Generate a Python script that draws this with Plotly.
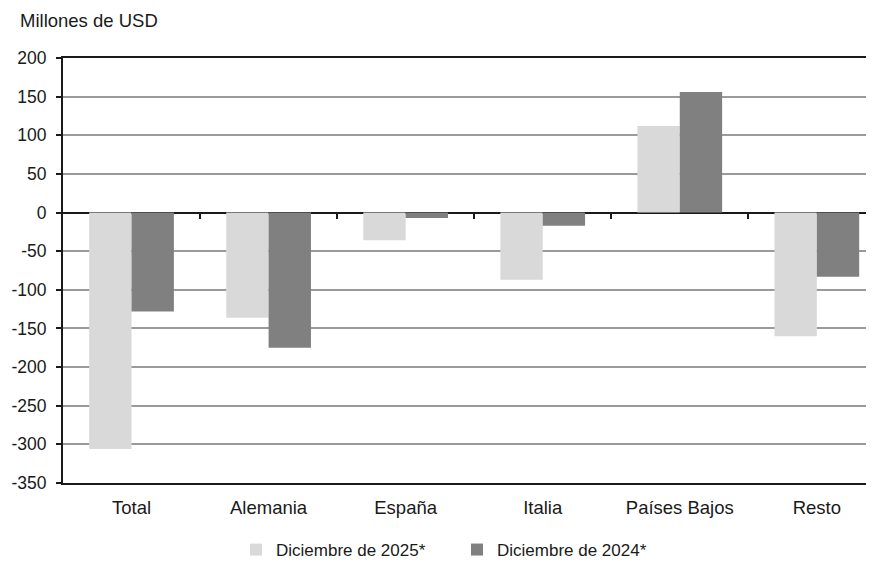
import plotly.graph_objects as go

categorias = ["Total", "Alemania", "España", "Italia", "Países Bajos", "Resto"]
dic_2025 = [-306, -136, -36, -87, 112, -160]
dic_2024 = [-128, -175, -7, -17, 156, -83]
serie_2025 = "Diciembre de 2025*"
serie_2024 = "Diciembre de 2024*"
titulo_y = "Millones de USD"
y_ticks = list(range(-350, 201, 50))
y_tick_labels = [str(v) for v in y_ticks]

FONT = "Liberation Sans"
TXT = "#1a1a1a"

# page body has an 8px margin; figure sized/offset to fill the 874x562 window
W, H = 866, 554
ML, MT, PH = 55, 50, 425
PW = W - ML
MB = H - MT - PH

fig = go.Figure()
fig.add_trace(go.Bar(x=categorias, y=dic_2025, name=serie_2025,
                     marker=dict(color="#d9d9d9", line=dict(width=0))))
fig.add_trace(go.Bar(x=categorias, y=dic_2024, name=serie_2024,
                     marker=dict(color="#808080", line=dict(width=0))))
# invisible helper trace carrying the category-boundary tick axis on the zero line
fig.add_trace(go.Scatter(x=[0], y=[0], xaxis="x2", yaxis="y", mode="markers",
                         marker=dict(opacity=0), showlegend=False, hoverinfo="skip"))

xr = [-0.5, 5.417]
fig.update_layout(
    width=W, height=H,
    margin=dict(l=ML, r=0, t=MT, b=MB, pad=0, autoexpand=False),
    paper_bgcolor="white", plot_bgcolor="white",
    font=dict(family=FONT, size=18, color=TXT),
    barmode="group", bargap=0.382, bargroupgap=0,
    showlegend=True,
    legend=dict(orientation="h", x=(228 - ML) / PW, xanchor="left",
                y=-67 / PH, yanchor="middle",
                font=dict(size=17, family=FONT, color=TXT),
                entrywidth=176, entrywidthmode="pixels", bgcolor="rgba(0,0,0,0)"),
    title=dict(text=titulo_y, x=12/W, xref="container", xanchor="left",
               y=1-13/H, yref="container", yanchor="middle",
               font=dict(size=18.5, family=FONT, color=TXT)),
    xaxis=dict(type="category", range=xr, showgrid=False, showline=True,
               linecolor="#1a1a1a", linewidth=2, mirror=True, ticks="",
               ticklabelstandoff=7, tickfont=dict(size=18.5)),
    xaxis2=dict(overlaying="x", anchor="free", position=350/550, range=xr,
                side="bottom", showgrid=False, showline=False, zeroline=False,
                showticklabels=False, tickvals=[0.5, 1.5, 2.5, 3.5, 4.5],
                ticks="outside", ticklen=5, tickwidth=2, tickcolor="#1a1a1a"),
    yaxis=dict(range=[-350, 200], tickvals=y_ticks, ticktext=y_tick_labels,
               showgrid=True, gridcolor="#9a9a9a", gridwidth=1.5, showline=True,
               linecolor="#1a1a1a", linewidth=2, ticks="outside", ticklen=5,
               tickwidth=1.5, tickcolor="#1a1a1a", ticklabelstandoff=6,
               zeroline=True, zerolinecolor="#1a1a1a", zerolinewidth=2,
               tickfont=dict(size=17.5)),
)

fig.write_html("out.html")
